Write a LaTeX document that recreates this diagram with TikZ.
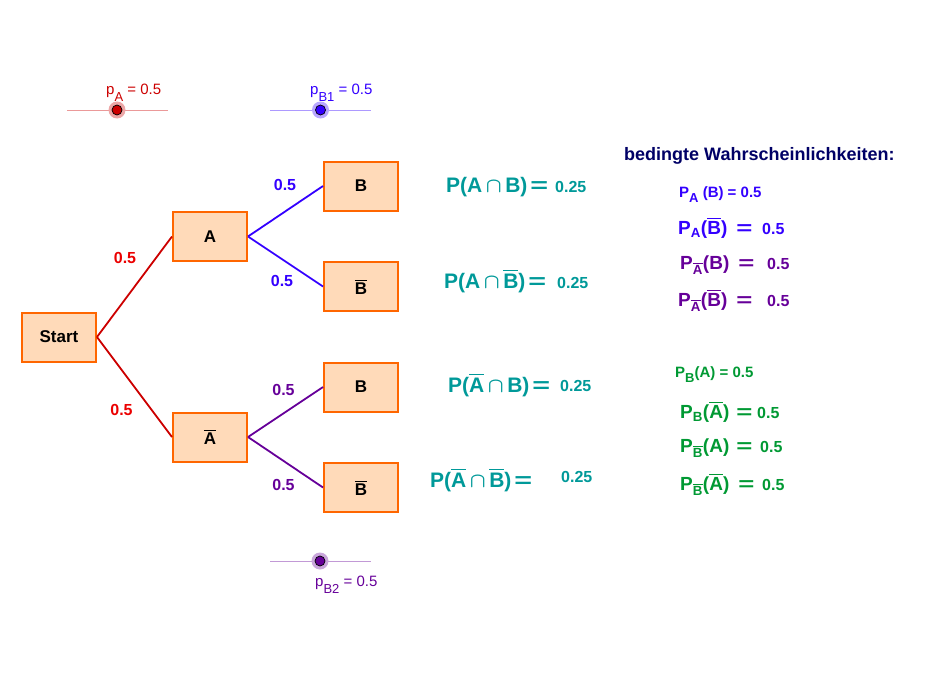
\documentclass[tikz,border=0pt]{standalone}
\usepackage{amsmath}
\usepackage{graphicx}
\usepackage{fontspec}
\setmainfont{Liberation Sans}
\usepackage{tikz}
\usepackage{xcolor}

\definecolor{kasten}{RGB}{255,218,185}
\definecolor{kantenrand}{RGB}{255,102,0}
\definecolor{rotA}{RGB}{204,0,0}
\definecolor{rotW}{RGB}{235,0,0}
\definecolor{blauB}{RGB}{51,0,255}
\definecolor{lilaB}{RGB}{102,0,153}
\definecolor{schnitt}{RGB}{0,153,153}
\definecolor{gruenP}{RGB}{0,153,51}
\definecolor{dunkelblau}{RGB}{0,0,102}

\newcommand{\schrift}[1]{\fontsize{#1}{#1}\selectfont}
\newcommand{\ov}[1]{\ensuremath{\overline{\text{#1}}}}
\newcommand{\tief}[2]{\raisebox{-#1pt}{\schrift{13}#2}}
\newcommand{\gleich}[1][6pt]{\hspace{#1}\scalebox{1.45}[1]{=}}

\tikzset{
    ereignis/.style = {draw = kantenrand, fill = kasten, line width = 2pt, minimum width = 74pt, minimum height = 49pt, font = \bfseries\schrift{17}},
    zweig/.style = {line width = 1.8pt},
    wkeit/.style = {font = \bfseries\schrift{16}, inner sep = 0pt},
    regler/.style = {line width = 0.8pt},
    knopf/.style = {circle, inner sep = 0pt, minimum size = 10pt, fill = #1, draw = black, line width = 0.7pt},
    schein/.style = {fill = #1!35},
    formel/.style = {anchor = base west, inner sep = 0pt, font = \bfseries\boldmath\schrift{21}},
    bed/.style = {anchor = base west, inner sep = 0pt, font = \bfseries\boldmath\schrift{19}},
    wert/.style = {anchor = base west, inner sep = 0pt, font = \bfseries\schrift{16}},
}

\begin{document}
\begin{tikzpicture}[x = 1pt, y = -1pt]
    \useasboundingbox (0,0) rectangle (943,677);
    \pgfmathsetmacro{\xs}{59}
    \pgfmathsetmacro{\xa}{210}
    \pgfmathsetmacro{\xb}{361}
    \node[ereignis] (start) at (\xs,337){Start};
    \node[ereignis] (a) at (\xa,236.5){A};
    \node[ereignis] (na) at (\xa,437){\ov{A}};
    \node[ereignis] (ab) at (\xb,186){B};
    \node[ereignis] (anb) at (\xb,286.5){\ov{B}};
    \node[ereignis] (nab) at (\xb,387){B};
    \node[ereignis] (nanb) at (\xb,487.5){\ov{B}};
    \draw[zweig, draw = rotA] (start.east) -- (a.west);
    \draw[zweig, draw = rotA] (start.east) -- (na.west);
    \draw[zweig, draw = blauB] (a.east) -- (ab.west);
    \draw[zweig, draw = blauB] (a.east) -- (anb.west);
    \draw[zweig, draw = lilaB] (na.east) -- (nab.west);
    \draw[zweig, draw = lilaB] (na.east) -- (nanb.west);
    \node[wkeit, text = rotW] (w1) at (125,258){0.5};
    \node[wkeit, text = rotW] (w2) at (121.5,410){0.5};
    \node[wkeit, text = blauB] (w3) at (285,185){0.5};
    \node[wkeit, text = blauB] (w4) at (282,281){0.5};
    \node[wkeit, text = lilaB] (w5) at (283.5,390){0.5};
    \node[wkeit, text = lilaB] (w6) at (283.5,485){0.5};
    \coordinate (ra0) at (67,110);
    \coordinate (ra1) at (168,110);
    \draw[regler, draw = rotA!40] (ra0) -- (ra1);
    \fill[schein = rotA] (117,110) circle (8.5);
    \node[knopf = rotA] (pa) at (117,110){};
    \node[anchor = base west, inner sep = 0pt, text = rotA, font = \schrift{15}] (pal) at (106,95){p\tief{7}{A} = 0.5};
    \coordinate (rb0) at (270,110);
    \coordinate (rb1) at (371,110);
    \draw[regler, draw = blauB!40] (rb0) -- (rb1);
    \fill[schein = blauB] (320.5,110) circle (8.5);
    \node[knopf = blauB] (pb1) at (320.5,110){};
    \node[anchor = base west, inner sep = 0pt, text = blauB, font = \schrift{15}] (pb1l) at (310,95){p\tief{7}{B1} = 0.5};
    \coordinate (rc0) at (270,561);
    \coordinate (rc1) at (371,561);
    \draw[regler, draw = lilaB!40] (rc0) -- (rc1);
    \fill[schein = lilaB] (320,561) circle (8.5);
    \node[knopf = lilaB] (pb2) at (320,561){};
    \node[anchor = base west, inner sep = 0pt, text = lilaB, font = \schrift{15}] (pb2l) at (315,586){p\tief{7}{B2} = 0.5};
    \node[formel, text = schnitt] (f1) at (446,192){P(A\,$\cap$\,B)\gleich[3pt]};
    \node[formel, text = schnitt] (f2) at (444,288){P(A\,$\cap$\,\ov{B})\gleich[3pt]};
    \node[formel, text = schnitt] (f3) at (448,392){P(\ov{A}\,$\cap$\,B)\gleich[3pt]};
    \node[formel, text = schnitt] (f4) at (430,487){P(\ov{A}\,$\cap$\,\ov{B})\gleich[3pt]};
    \node[wert, text = schnitt] (e1) at (555,192){0.25};
    \node[wert, text = schnitt] (e2) at (557,288){0.25};
    \node[wert, text = schnitt] (e3) at (560,391){0.25};
    \node[wert, text = schnitt] (e4) at (561,482){0.25};
    \node[bed, text = dunkelblau, font = \bfseries\schrift{18}] (titel) at (624,160){bedingte Wahrscheinlichkeiten:};
    \node[bed, text = blauB, font = \bfseries\schrift{15}] (k1) at (679,197){P\tief{5}{A} (B) = 0.5};
    \node[bed, text = blauB] (k2) at (678,234){P$_{\text{A}}$(\ov{B})\gleich[9pt]};
    \node[bed, text = lilaB] (k3) at (680,269){P$_{\ov{A}}$(B)\gleich[9pt]};
    \node[bed, text = lilaB] (k4) at (678,306){P$_{\ov{A}}$(\ov{B})\gleich[9pt]};
    \node[bed, text = gruenP, font = \bfseries\schrift{15}] (k5) at (675,377){P\tief{5}{B}(A) = 0.5};
    \node[bed, text = gruenP] (k6) at (680,418){P$_{\text{B}}$(\ov{A})\gleich[7pt]};
    \node[bed, text = gruenP] (k7) at (680,452){P$_{\ov{B}}$(A)\gleich[7pt]};
    \node[bed, text = gruenP] (k8) at (680,490){P$_{\ov{B}}$(\ov{A})\gleich[9pt]};
    \node[wert, text = blauB] (v2) at (762,234){0.5};
    \node[wert, text = lilaB] (v3) at (767,269){0.5};
    \node[wert, text = lilaB] (v4) at (767,306){0.5};
    \node[wert, text = gruenP] (v6) at (757,418){0.5};
    \node[wert, text = gruenP] (v7) at (760,452){0.5};
    \node[wert, text = gruenP] (v8) at (762,490){0.5};
\end{tikzpicture}
\end{document}
